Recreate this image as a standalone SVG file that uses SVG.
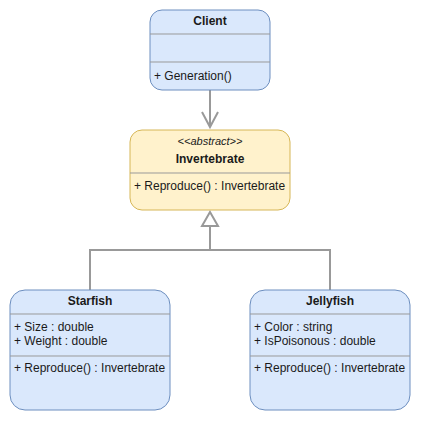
<svg xmlns="http://www.w3.org/2000/svg" width="421" height="421" viewBox="0 0 421 421">
<style>
.blue{fill:#dae8fc;stroke:#6c8ebf;stroke-width:1}
.yellow{fill:#fff2cc;stroke:#d6b656;stroke-width:1}
.div{stroke:#999999;stroke-width:1}
text{font-family:"Liberation Sans",Arial,sans-serif;font-size:12px;fill:#1a1a1a}
.t{font-weight:bold;text-anchor:middle}
.it{font-style:italic;text-anchor:middle;font-size:11px}
.conn{fill:none;stroke:#999999;stroke-width:2}
</style>
<rect width="421" height="421" fill="#ffffff"/>
<g id="connectors">
<path class="conn" d="M210 90 V127"/>
<path class="conn" d="M202 112 L210 127 L218 112"/>
<path class="conn" d="M90 290 V250 H330 V290"/>
<path class="conn" d="M210 250 V226"/>
<path class="conn" d="M210 212 L202 226 H218 Z" style="fill:#ffffff"/>
</g>
<g id="client">
<rect class="blue" x="150" y="10" width="120" height="80" rx="12"/>
<line class="div" x1="150" y1="34" x2="270" y2="34"/>
<line class="div" x1="150" y1="62" x2="270" y2="62"/>
<text class="t" x="210" y="25">Client</text>
<text x="154" y="80">+ Generation()</text>
</g>
<g id="invertebrate">
<rect class="yellow" x="130" y="130" width="160" height="80" rx="12"/>
<line class="div" x1="130" y1="173" x2="290" y2="173"/>
<text class="it" x="210" y="145">&lt;&lt;abstract&gt;&gt;</text>
<text class="t" x="210" y="163">Invertebrate</text>
<text x="134" y="190">+ Reproduce() : Invertebrate</text>
</g>
<g id="starfish">
<rect class="blue" x="10" y="290" width="160" height="120" rx="15"/>
<line class="div" x1="10" y1="314" x2="170" y2="314"/>
<line class="div" x1="10" y1="356" x2="170" y2="356"/>
<text class="t" x="90" y="305">Starfish</text>
<text x="14" y="331">+ Size : double</text>
<text x="14" y="345">+ Weight : double</text>
<text x="14" y="372">+ Reproduce() : Invertebrate</text>
</g>
<g id="jellyfish">
<rect class="blue" x="250" y="290" width="160" height="120" rx="15"/>
<line class="div" x1="250" y1="314" x2="410" y2="314"/>
<line class="div" x1="250" y1="356" x2="410" y2="356"/>
<text class="t" x="330" y="305">Jellyfish</text>
<text x="254" y="331">+ Color : string</text>
<text x="254" y="345">+ IsPoisonous : double</text>
<text x="254" y="372">+ Reproduce() : Invertebrate</text>
</g>
</svg>
